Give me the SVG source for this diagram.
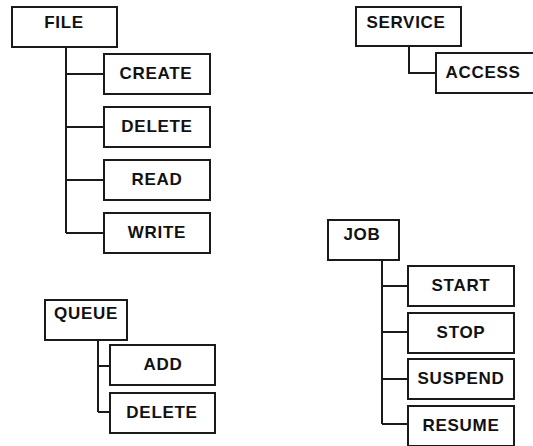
<svg xmlns="http://www.w3.org/2000/svg" width="533" height="446" viewBox="0 0 533 446">
  <style>
    .box { fill: #fff; stroke: #1a1a1a; stroke-width: 2; }
    .lbl { font-family: "Liberation Sans", Arial, sans-serif; font-weight: bold; font-size: 17px; letter-spacing: 0.7px; fill: #111; text-anchor: middle; }
    .wire { fill: none; stroke: #1a1a1a; stroke-width: 2; }
  </style>
  <rect width="533" height="446" fill="#fff"/>

  <!-- connectors -->
  <g id="connectors" class="wire">
    <!-- FILE tree -->
    <path d="M66 47 V233 M66 74 H104 M66 127 H104 M66 180 H104 M66 233 H104"/>
    <!-- SERVICE tree -->
    <path d="M409 46 V73 H436"/>
    <!-- QUEUE tree -->
    <path d="M98 340 V412 M98 366 H110 M98 412 H110"/>
    <!-- JOB tree -->
    <path d="M382 260 V424 M382 286 H408 M382 332 H408 M382 379 H408 M382 424 H408"/>
  </g>

  <!-- FILE -->
  <g id="file"><rect class="box" x="12" y="7" width="105" height="40"/><text class="lbl" x="64" y="28">FILE</text></g>
  <g id="file-create"><rect class="box" x="104" y="54" width="106" height="40"/><text class="lbl" x="156" y="79">CREATE</text></g>
  <g id="file-delete"><rect class="box" x="104" y="107" width="106" height="40"/><text class="lbl" x="157" y="132">DELETE</text></g>
  <g id="file-read"><rect class="box" x="104" y="160" width="106" height="40"/><text class="lbl" x="157" y="185">READ</text></g>
  <g id="file-write"><rect class="box" x="104" y="213" width="106" height="40"/><text class="lbl" x="157" y="238">WRITE</text></g>

  <!-- SERVICE -->
  <g id="service"><rect class="box" x="356" y="7" width="105" height="39"/><text class="lbl" x="406" y="28">SERVICE</text></g>
  <g id="service-access"><rect class="box" x="436" y="53" width="105" height="40"/><text class="lbl" x="483" y="78">ACCESS</text></g>

  <!-- QUEUE -->
  <g id="queue"><rect class="box" x="45" y="300" width="82" height="40"/><text class="lbl" x="86" y="319">QUEUE</text></g>
  <g id="queue-add"><rect class="box" x="110" y="345" width="105" height="40"/><text class="lbl" x="163" y="370">ADD</text></g>
  <g id="queue-delete"><rect class="box" x="110" y="393" width="105" height="40"/><text class="lbl" x="162" y="418">DELETE</text></g>

  <!-- JOB -->
  <g id="job"><rect class="box" x="328" y="220" width="71" height="40"/><text class="lbl" x="362" y="240">JOB</text></g>
  <g id="job-start"><rect class="box" x="408" y="266" width="106" height="40"/><text class="lbl" x="461" y="291">START</text></g>
  <g id="job-stop"><rect class="box" x="408" y="313" width="106" height="40"/><text class="lbl" x="461" y="338">STOP</text></g>
  <g id="job-suspend"><rect class="box" x="408" y="359" width="106" height="40"/><text class="lbl" x="461" y="384">SUSPEND</text></g>
  <g id="job-resume"><rect class="box" x="408" y="406" width="106" height="40"/><text class="lbl" x="461" y="431">RESUME</text></g>
</svg>
